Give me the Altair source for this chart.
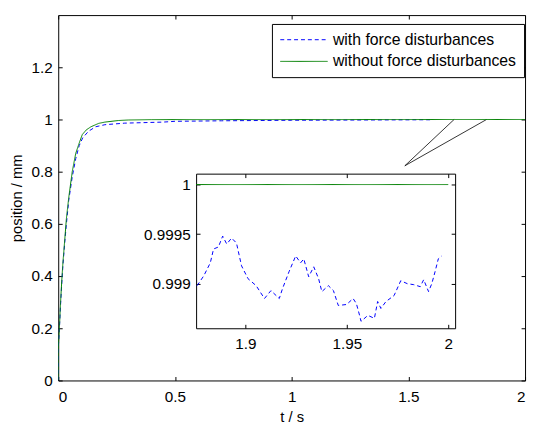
import altair as alt
import pandas as pd

# ---------------- data ----------------
series_names = ["with force disturbances", "without force disturbances"]

blue_t = [0, 0, 0.005, 0.01, 0.015, 0.02, 0.028, 0.035, 0.045, 0.06, 0.075, 0.09,
          0.105, 0.13, 0.16, 0.2, 0.285, 0.45, 0.5, 0.7, 1.0, 1.3, 1.6]
blue_y = [0, 0.12, 0.2, 0.29, 0.37, 0.44, 0.53, 0.6, 0.69, 0.78, 0.85, 0.9,
          0.93, 0.955, 0.972, 0.98, 0.986, 0.99, 0.993, 0.995, 0.997, 0.998, 0.999]

green_t = [0, 0, 0.005, 0.01, 0.015, 0.02, 0.028, 0.035, 0.045, 0.06, 0.075, 0.09,
           0.103, 0.12, 0.14, 0.173, 0.2, 0.257, 0.3, 0.4, 2.0]
green_y = [0, 0.12, 0.2, 0.3, 0.38, 0.45, 0.54, 0.62, 0.7, 0.8, 0.87, 0.91,
           0.942, 0.96, 0.972, 0.985, 0.99, 0.996, 0.998, 0.9995, 1.0]

inset_blue_t = [1.8762, 1.8795, 1.8827, 1.8843, 1.8867, 1.8888, 1.8908, 1.8932, 1.8956,
                1.8981, 1.9013, 1.9053, 1.9094, 1.9126, 1.9167, 1.9183, 1.9215, 1.9248,
                1.9272, 1.9288, 1.9312, 1.9337, 1.9361, 1.9377, 1.9409, 1.9434, 1.9458,
                1.9499, 1.9531, 1.9547, 1.9563, 1.9570, 1.9604, 1.9636, 1.9652, 1.9668,
                1.9693, 1.9733, 1.9766, 1.9798, 1.9830, 1.9862, 1.9879, 1.9903, 1.9919,
                1.9935, 1.9951, 1.9968]
inset_blue_y = [0.99898, 0.99908, 0.99921, 0.99935, 0.99937, 0.99948, 0.99940, 0.99946, 0.99941,
                0.99918, 0.99905, 0.99898, 0.99885, 0.99893, 0.99885, 0.99895, 0.99912, 0.99928,
                0.99921, 0.99925, 0.99907, 0.99917, 0.99905, 0.99892, 0.99898, 0.99893, 0.99878,
                0.99879, 0.99885, 0.99880, 0.99868, 0.99862, 0.99868, 0.99865, 0.99882, 0.99875,
                0.99882, 0.99888, 0.99903, 0.99900, 0.99899, 0.99897, 0.99904, 0.99892, 0.99900,
                0.99912, 0.99925, 0.99928]
inset_green_t = [1.8757, 2.0]
inset_green_y = [1.0, 1.0]

conn_id = ["a", "a", "b", "b"]
conn_t = [1.485, 1.696, 1.485, 1.835]
conn_y = [0.8226, 1.0, 0.8226, 1.0]

main_xticks = [0, 0.5, 1, 1.5, 2]
main_yticks = [0, 0.2, 0.4, 0.6, 0.8, 1.0, 1.2]
inset_xticks = [1.9, 1.95, 2.0]
inset_yticks = [0.999, 0.9995, 1.0]

main_xdom = [0, 2]
main_ydom = [0, 1.4]
inset_xdom = [1.8757, 2.0034]
inset_ydom = [0.99855, 1.00011]

# ---------------- layout / style ----------------
W, H = 474, 371
IL, IR, IT, IB = 140, 403, 161, 318   # inset box inside the plot (px)
TK = 4
FONT = "Liberation Sans"
FS = 15.5
TFS = 15
BLUE, GREEN = "#0000ff", "#008000"

main_df = pd.DataFrame({
    "t": blue_t + green_t,
    "y": blue_y + green_y,
    "series": [series_names[0]] * len(blue_t) + [series_names[1]] * len(green_t),
    "i": list(range(len(blue_t))) + list(range(len(green_t))),
})
inset_df = pd.DataFrame({
    "t": inset_blue_t + inset_green_t,
    "y": inset_blue_y + inset_green_y,
    "series": [series_names[0]] * len(inset_blue_t) + [series_names[1]] * len(inset_green_t),
    "i": list(range(len(inset_blue_t))) + list(range(len(inset_green_t))),
})
conn_df = pd.DataFrame({"t": conn_t, "y": conn_y, "seg": conn_id,
                        "i": [0, 1, 0, 1]})


def xs_main():
    return alt.Scale(domain=main_xdom, nice=False, zero=False)


def ys_main():
    return alt.Scale(domain=main_ydom, nice=False, zero=False)


def xs_in():
    return alt.Scale(domain=inset_xdom, range=[IL, IR], nice=False, zero=False)


def ys_in():
    return alt.Scale(domain=inset_ydom, range=[IB, IT], nice=False, zero=False)


def tick_axis(orient, values, offset):
    return alt.Axis(orient=orient, values=values, labels=False, domain=False,
                    grid=False, ticks=True, tickSize=TK, tickColor="black",
                    tickWidth=1, offset=offset)


def label_axis(orient, values, offset=0, domain=False, title_pad=4, lab_pad=6):
    return alt.Axis(orient=orient, values=values, format="~g", ticks=False,
                    tickSize=0, domain=domain, domainColor="black", grid=False,
                    labelFontSize=FS, labelColor="black", labelPadding=lab_pad,
                    offset=offset, titleFontSize=TFS, titleFontWeight="normal",
                    titleColor="black", titlePadding=title_pad)


def domain_axis(orient, offset):
    return alt.Axis(orient=orient, labels=False, ticks=False, grid=False,
                    domain=True, domainColor="black", offset=offset, tickCount=2)


color_scale = alt.Scale(domain=series_names, range=[BLUE, GREEN])
dash_scale = alt.Scale(domain=series_names, range=[[4, 3], [1, 0]])
legend = alt.Legend(orient="none", legendX=217, legendY=9, title=None,
                    symbolType="stroke", symbolSize=2304, symbolStrokeWidth=1,
                    clipHeight=16, labelFontSize=16, labelColor="black",
                    labelOffset=5, strokeColor="black", fillColor="white",
                    padding=8, rowPadding=6, labelLimit=400)

# ---------------- main plot ----------------
main_lines = alt.Chart(main_df).mark_line(strokeWidth=1, clip=True).encode(
    x=alt.X("t:Q", scale=xs_main(), title="t / s",
            axis=label_axis("bottom", main_xticks, title_pad=5, lab_pad=9)),
    y=alt.Y("y:Q", scale=ys_main(), title="position / mm",
            axis=label_axis("left", main_yticks, title_pad=7)),
    color=alt.Color("series:N", scale=color_scale, legend=legend),
    strokeDash=alt.StrokeDash("series:N", scale=dash_scale, legend=legend),
    order="i:Q",
)

connectors = alt.Chart(conn_df).mark_line(color="black", strokeWidth=0.8).encode(
    x=alt.X("t:Q", scale=xs_main(), title=None, axis=tick_axis("bottom", main_xticks, -TK)),
    y=alt.Y("y:Q", scale=ys_main(), title=None, axis=tick_axis("left", main_yticks, -TK)),
    detail="seg:N",
    order="i:Q",
)

top_right_ticks = alt.Chart(conn_df).mark_line(strokeOpacity=0).encode(
    x=alt.X("t:Q", scale=xs_main(), title=None, axis=tick_axis("top", main_xticks, -TK)),
    y=alt.Y("y:Q", scale=ys_main(), title=None, axis=tick_axis("right", main_yticks, -TK)),
    detail="seg:N",
)

# ---------------- inset ----------------
inset_lines = alt.Chart(inset_df).mark_line(strokeWidth=1).encode(
    x=alt.X("t:Q", scale=xs_in(), title=None,
            axis=label_axis("bottom", inset_xticks, offset=-(H - IB), domain=True, lab_pad=9)),
    y=alt.Y("y:Q", scale=ys_in(), title=None,
            axis=label_axis("left", inset_yticks, offset=-IL, domain=True)),
    color=alt.Color("series:N", scale=color_scale, legend=None),
    strokeDash=alt.StrokeDash("series:N", scale=dash_scale, legend=None),
    order="i:Q",
)

inset_ticks_bl = alt.Chart(inset_df).mark_line(strokeOpacity=0).encode(
    x=alt.X("t:Q", scale=xs_in(), title=None,
            axis=tick_axis("bottom", inset_xticks, -(H - IB) - TK)),
    y=alt.Y("y:Q", scale=ys_in(), title=None,
            axis=tick_axis("left", inset_yticks, -IL - TK)),
    detail="series:N",
)

inset_dom_tr = alt.Chart(inset_df).mark_line(strokeOpacity=0).encode(
    x=alt.X("t:Q", scale=xs_in(), title=None, axis=domain_axis("top", -IT)),
    y=alt.Y("y:Q", scale=ys_in(), title=None, axis=domain_axis("right", -(W - IR))),
    detail="series:N",
)

inset_ticks_tr = alt.Chart(inset_df).mark_line(strokeOpacity=0).encode(
    x=alt.X("t:Q", scale=xs_in(), title=None,
            axis=tick_axis("top", inset_xticks, -IT - TK)),
    y=alt.Y("y:Q", scale=ys_in(), title=None,
            axis=tick_axis("right", inset_yticks, -(W - IR) - TK)),
    detail="series:N",
)

chart = alt.layer(
    connectors, top_right_ticks, main_lines,
    inset_lines, inset_ticks_bl, inset_dom_tr, inset_ticks_tr,
).resolve_scale(
    x="independent", y="independent"
).resolve_axis(
    x="independent", y="independent"
).properties(
    width=W, height=H, autosize="none",
    padding={"left": 51, "top": 4, "right": 3, "bottom": 41},
).configure(
    font=FONT, background="white"
).configure_view(
    stroke="black", strokeWidth=1
)

chart.save("out.html", embed_options={"renderer": "svg", "actions": False})
